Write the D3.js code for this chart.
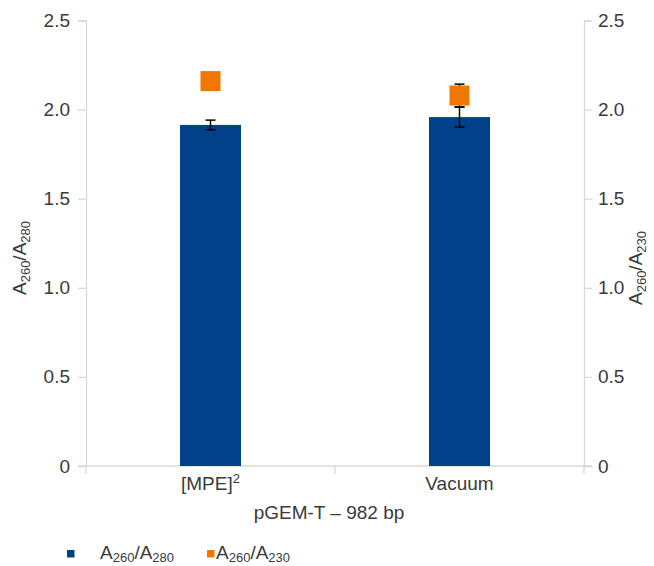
<!DOCTYPE html>
<html><head><meta charset="utf-8">
<script src="https://cdn.jsdelivr.net/npm/d3@7"></script>
<style>body{margin:0;background:#fff}svg text{font-family:"Liberation Sans",Arial,sans-serif;fill:#3a3a3a}</style>
</head><body><svg id="c" width="654" height="566"></svg>
<script>
const categories = ["[MPE]", "Vacuum"];
const ratio280 = [1.914, 1.958];
const ratio280Err = [0.027, 0.056];
const ratio230 = [2.16, 2.079];
const ratio230Err = [0.01, 0.064];
const yTicks = [0, 0.5, 1.0, 1.5, 2.0, 2.5];
const yTickLabels = ["0", "0.5", "1.0", "1.5", "2.0", "2.5"];

const svg = d3.select("#c");
const M = {l: 86, r: 584, t: 20.5, b: 466};
const x = d3.scaleBand().domain(categories).range([M.l, M.r]).paddingInner(0).paddingOuter(0);
const y = d3.scaleLinear().domain([0, 2.5]).range([M.b, M.t]);
const y2 = d3.scaleLinear().domain([0, 2.5]).range([M.b, M.t]);
const grey = "#d9d9d9";
const blue = "#00418A", orange = "#F07800";
const FS = 19, SUB = 13;

// axes
const yl = d3.axisLeft(y).tickValues(yTicks).tickFormat((d,i)=>yTickLabels[i]).tickSize(8).tickPadding(8);
const gL = svg.append("g").attr("transform", `translate(${M.l},0)`).call(yl);
const yr = d3.axisRight(y2).tickValues(yTicks).tickFormat((d,i)=>yTickLabels[i]).tickSize(8).tickPadding(6);
const gR = svg.append("g").attr("transform", `translate(${M.r},0)`).call(yr);
const xa = d3.axisBottom(x).tickSize(0).tickFormat("");
const gX = svg.append("g").attr("transform", `translate(0,${M.b})`).call(xa);
[gL, gR, gX].forEach(g => {
  g.select(".domain").attr("stroke", grey).attr("stroke-width", 1.3);
  g.selectAll(".tick line").attr("stroke", grey).attr("stroke-width", 1.3);
  g.selectAll("text").attr("font-size", FS).attr("fill", "#3a3a3a").attr("font-family", "Liberation Sans, Arial, sans-serif");
});
gX.select(".domain").attr("d", `M${M.l-8},0H${M.r+8}`);
// x ticks at band boundaries
const bounds = [M.l, ...categories.slice(1).map(c => x(c)), M.r];
gX.selectAll(".bt").data(bounds).enter().append("line")
  .attr("x1", d => d).attr("x2", d => d).attr("y1", 0).attr("y2", 8)
  .attr("stroke", grey).attr("stroke-width", 1.3);

// bars
const bw = x.bandwidth() * 0.245;
svg.selectAll(".bar").data(categories).enter().append("rect")
  .attr("x", d => x(d) + x.bandwidth()/2 - bw/2)
  .attr("width", bw)
  .attr("y", (d,i) => y(ratio280[i]))
  .attr("height", (d,i) => y(0) - y(ratio280[i]))
  .attr("fill", blue);

function errBar(cx, v, e, sc) {
  const g = svg.append("g").attr("stroke", "#000").attr("stroke-width", 1.5);
  g.append("line").attr("x1", cx).attr("x2", cx).attr("y1", sc(v - e)).attr("y2", sc(v + e));
  g.append("line").attr("x1", cx - 5).attr("x2", cx + 5).attr("y1", sc(v - e)).attr("y2", sc(v - e));
  g.append("line").attr("x1", cx - 5).attr("x2", cx + 5).attr("y1", sc(v + e)).attr("y2", sc(v + e));
}
categories.forEach((c, i) => {
  const cx = x(c) + x.bandwidth()/2;
  errBar(cx, ratio280[i], ratio280Err[i], y);
  errBar(cx, ratio230[i], ratio230Err[i], y2);
});
const sq = 20;
svg.selectAll(".pt").data(categories).enter().append("rect")
  .attr("x", d => x(d) + x.bandwidth()/2 - sq/2)
  .attr("y", (d,i) => y2(ratio230[i]) - sq/2)
  .attr("width", sq).attr("height", sq)
  .attr("fill", orange);

// category labels
categories.forEach((c, i) => {
  const t = svg.append("text").attr("x", x(c) + x.bandwidth()/2).attr("y", 490)
    .attr("text-anchor", "middle").attr("font-size", FS);
  t.append("tspan").text(c);
  if (i === 0) t.append("tspan").attr("dy", -7).attr("font-size", SUB).text("2");
});
svg.append("text").attr("x", 329).attr("y", 519).attr("text-anchor", "middle")
  .attr("font-size", FS).text("pGEM-T – 982 bp");

function ratioText(sel, a, b, d) {
  sel.append("tspan").text("A");
  sel.append("tspan").attr("dy", d).attr("font-size", SUB).text(a);
  sel.append("tspan").attr("dy", -d).text("/A");
  sel.append("tspan").attr("dy", d).attr("font-size", SUB).text(b);
}
const tl = svg.append("text").attr("transform", "translate(26,258) rotate(-90)")
  .attr("text-anchor", "middle").attr("font-size", FS);
ratioText(tl, "260", "280", 4);
const tr = svg.append("text").attr("transform", "translate(642,268) rotate(-90)")
  .attr("text-anchor", "middle").attr("font-size", FS);
ratioText(tr, "260", "230", 4);

// legend
svg.append("rect").attr("x", 67).attr("y", 550).attr("width", 7.5).attr("height", 7.5).attr("fill", blue);
const l1 = svg.append("text").attr("x", 100).attr("y", 559).attr("font-size", FS);
ratioText(l1, "260", "280", 3);
svg.append("rect").attr("x", 207).attr("y", 550).attr("width", 7.5).attr("height", 7.5).attr("fill", orange);
const l2 = svg.append("text").attr("x", 216).attr("y", 559).attr("font-size", FS);
ratioText(l2, "260", "230", 3);
</script></body></html>
